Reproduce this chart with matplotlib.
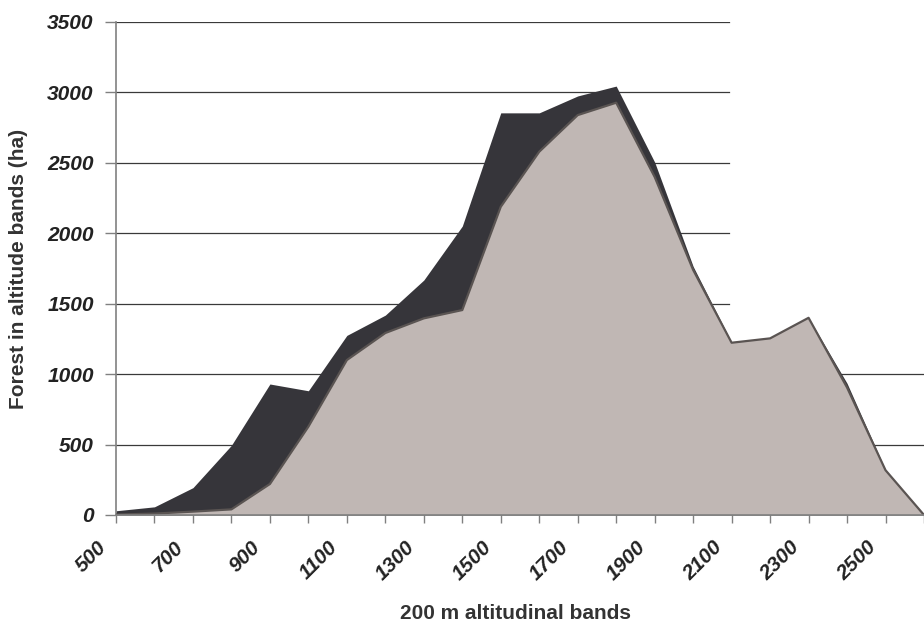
import matplotlib
matplotlib.use("Agg")
import matplotlib.pyplot as plt
from matplotlib.transforms import ScaledTranslation

altitude = [500, 600, 700, 800, 900, 1000, 1100, 1200, 1300, 1400, 1500,
            1600, 1700, 1800, 1900, 2000, 2100, 2200, 2300, 2400, 2500, 2600]
forest_total = [30, 58, 194, 495, 930, 882, 1275, 1419, 1668, 2051, 2855,
                2855, 2975, 3045, 2505, 1765, 1225, 1255, 1400, 935, 320, 5]
forest_remaining = [3, 10, 24, 40, 220, 627, 1100, 1292, 1396, 1455, 2188,
                    2579, 2839, 2927, 2400, 1740, 1223, 1254, 1400, 905, 318, 0]
y_ticks = [0, 500, 1000, 1500, 2000, 2500, 3000, 3500]
x_labels = [500, 700, 900, 1100, 1300, 1500, 1700, 1900, 2100, 2300, 2500]

plt.rcParams['font.family'] = ['Liberation Sans', 'DejaVu Sans']

fig = plt.figure(figsize=(9.24, 6.3), dpi=100)
ax = fig.add_axes([116/924, 1-515/630, 1-116/924, (515-22)/630])

# gridlines (upper ones are cut short in the reference)
for v in y_ticks[1:]:
    xmax = 1.0 if v <= 1000 else (729-116)/(924-116)
    ax.axhline(v, xmin=0, xmax=xmax, color='#3a3a3a', lw=0.9, zorder=0)

ax.fill_between(altitude, 0, forest_total, color='#36353a', lw=0, zorder=2)
ax.fill_between(altitude, 0, forest_remaining, color='#c0b7b4',
                edgecolor='none', zorder=3)
ax.plot(altitude, forest_remaining, color='#5a5452', lw=1.6, zorder=4)

ax.set_xlim(500, 2600)
ax.set_ylim(0, 3500)
ax.set_yticks(y_ticks)
ax.set_yticklabels([str(v) for v in y_ticks], fontsize=15,
                   fontweight='bold', fontstyle='italic', color='#222222')
ax.set_xticks(altitude)
ax.set_xticklabels([str(a) if a in x_labels else '' for a in altitude],
                   rotation=45, ha='right', va='center', rotation_mode='anchor',
                   fontsize=15, fontweight='bold', fontstyle='italic',
                   color='#222222')
ax.tick_params(axis='y', length=8, color='#808080', width=1, pad=8)
ax.tick_params(axis='x', length=6, color='#808080', width=1, pad=15)
off = ScaledTranslation(-9/72, 0, fig.dpi_scale_trans)
for lab in ax.get_xticklabels():
    lab.set_transform(lab.get_transform() + off)

for s in ['top', 'right']:
    ax.spines[s].set_visible(False)
ax.spines['left'].set_color('#808080')
ax.spines['bottom'].set_color('#808080')
ax.spines['left'].set_linewidth(1.2)
ax.spines['bottom'].set_linewidth(1.2)
ax.spines['bottom'].set_zorder(5)

ax.set_ylabel('Forest in altitude bands (ha)', fontsize=15,
              fontweight='bold', color='#333333')
ax.set_xlabel('200 m altitudinal bands', fontsize=15,
              fontweight='bold', color='#333333')
ax.yaxis.set_label_coords((28-116)/808, 0.5)
ax.xaxis.set_label_coords((516-116)/808, (515-604)/493)

fig.savefig('out.png', dpi=100)
